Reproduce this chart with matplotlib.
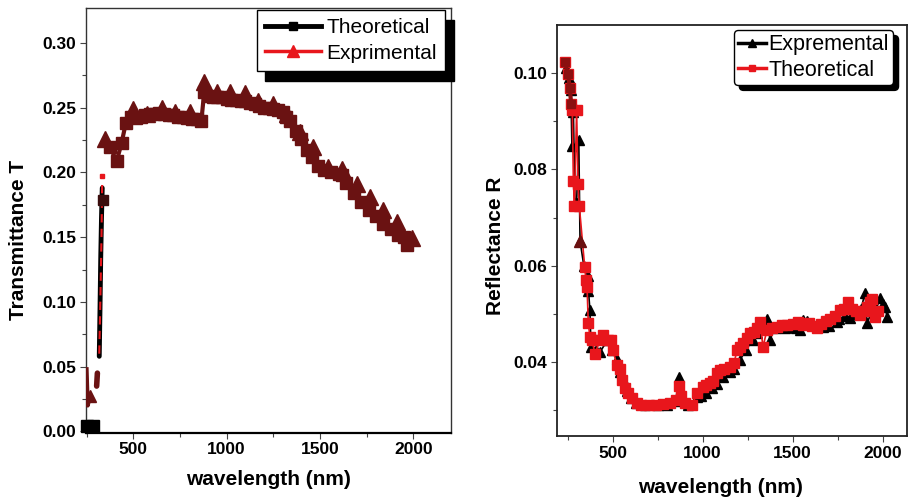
import matplotlib
matplotlib.use("Agg")
import matplotlib.pyplot as plt
from matplotlib.lines import Line2D
import numpy as np

plt.rcParams['font.family'] = ['Liberation Sans', 'DejaVu Sans']

# ---------------- Left panel: Transmittance ----------------
T_theo_wl = [255, 285, 318, 322, 326, 330, 334, 340,
             376, 411, 438, 460, 490, 515, 540, 565, 590, 615, 640, 665, 690,
             715, 740, 765, 790, 815, 840, 865, 880, 900, 925, 950, 975, 1000,
             1025, 1050, 1075, 1100, 1125, 1150, 1175, 1200, 1225, 1250, 1275,
             1300, 1320, 1340, 1370, 1400, 1430, 1460, 1490, 1520, 1560, 1600,
             1620, 1640, 1680, 1720, 1760, 1800, 1840, 1880, 1920, 1950, 1965]
T_theo = [0.004, 0.004, 0.058, 0.095, 0.135, 0.165, 0.188, 0.179,
          0.220, 0.2085, 0.223, 0.238, 0.243, 0.242, 0.243, 0.244, 0.245, 0.245, 0.246, 0.245, 0.244,
          0.244, 0.243, 0.243, 0.242, 0.241, 0.241, 0.240, 0.262, 0.259, 0.258, 0.258, 0.258, 0.257,
          0.256, 0.256, 0.255, 0.255, 0.254, 0.253, 0.251, 0.250, 0.250, 0.249, 0.248,
          0.247, 0.243, 0.240, 0.232, 0.226, 0.217, 0.212, 0.205, 0.202, 0.200, 0.199,
          0.198, 0.192, 0.184, 0.177, 0.171, 0.166, 0.160, 0.156, 0.152, 0.150, 0.144]

T_exp_wl = [250, 256, 268, 290, 304, 308, 318, 325, 330, 334,
            349, 500, 572, 654, 724, 804, 879, 949, 1019, 1099, 1169, 1249,
            1324, 1394, 1464, 1544, 1619, 1699, 1769, 1839, 1914, 1994]
T_exp = [0.048, 0.020, 0.027, 0.022, 0.035, 0.045, 0.060, 0.110, 0.150, 0.197,
         0.226, 0.249, 0.245, 0.250, 0.247, 0.247, 0.270, 0.262, 0.262, 0.261, 0.255, 0.253,
         0.245, 0.231, 0.220, 0.204, 0.203, 0.191, 0.181, 0.171, 0.162, 0.149]

# ---------------- Right panel: Reflectance ----------------
R_exp_wl = [240, 255, 268, 274, 282, 291, 300, 312, 319, 340, 363, 366, 374, 380,
            410, 430, 470, 497, 524, 541, 560, 580, 600, 630, 680, 750, 800, 850,
            869, 880, 920, 969, 990, 1020, 1050, 1080, 1113, 1152, 1175, 1208,
            1240, 1280, 1300, 1330, 1358, 1374, 1400, 1430, 1460, 1490, 1520,
            1541, 1560, 1580, 1610, 1640, 1669, 1700, 1746, 1760, 1790, 1820,
            1850, 1880, 1902, 1913, 1940, 1965, 1985, 2000, 2013, 2024]
R_exp = [0.1010, 0.0990, 0.0965, 0.0848, 0.0920, 0.0731, 0.0731, 0.0862, 0.0652, 0.0600, 0.0579, 0.0548, 0.0507, 0.0431,
         0.0424, 0.0420, 0.0445, 0.0425, 0.0407, 0.0380, 0.0365, 0.0340, 0.0325, 0.0315, 0.0310, 0.0310, 0.0310, 0.0318,
         0.0369, 0.0320, 0.0310, 0.0327, 0.0330, 0.0335, 0.0345, 0.0355, 0.0369, 0.0379, 0.0385, 0.0404,
         0.0425, 0.0446, 0.0460, 0.0470, 0.0490, 0.0446, 0.0470, 0.0475, 0.0470, 0.0472, 0.0470,
         0.0467, 0.0487, 0.0485, 0.0478, 0.0475, 0.0473, 0.0475, 0.0483, 0.0490, 0.0495, 0.0492,
         0.0500, 0.0510, 0.0544, 0.0480, 0.0505, 0.0510, 0.0533, 0.0520, 0.0515, 0.0494]

R_theo_wl = [235, 252, 262, 270, 276, 282, 288, 300, 308, 315, 345, 352, 358, 365, 374,
             385, 402, 430, 447, 474, 490, 502, 524, 540, 552, 568, 585, 608, 635, 660,
             700, 740, 780, 820, 850, 869, 880, 900, 940, 969, 1002, 1020, 1041, 1060,
             1080, 1097, 1120, 1152, 1175, 1191, 1210, 1224, 1245, 1263, 1285, 1302,
             1319, 1335, 1358, 1385, 1413, 1440, 1469, 1500, 1530, 1558, 1590, 1610,
             1636, 1660, 1685, 1708, 1735, 1763, 1785, 1808, 1830, 1850, 1874, 1895,
             1913, 1930, 1941, 1958, 1975]
R_theo = [0.1023, 0.0998, 0.0970, 0.0935, 0.0924, 0.0776, 0.0724, 0.0924, 0.0769, 0.0724, 0.0597, 0.0570, 0.0555, 0.0480, 0.0452,
          0.0446, 0.0417, 0.0445, 0.0455, 0.0445, 0.0446, 0.0424, 0.0393, 0.0385, 0.0363, 0.0346, 0.0335, 0.0325, 0.0315, 0.0310,
          0.0310, 0.0310, 0.0312, 0.0315, 0.0320, 0.0350, 0.0330, 0.0315, 0.0310, 0.0335, 0.0348, 0.0352, 0.0356, 0.0360,
          0.0377, 0.0383, 0.0386, 0.0390, 0.0398, 0.0425, 0.0430, 0.0440, 0.0450, 0.0460, 0.0462, 0.0470,
          0.0483, 0.0431, 0.0467, 0.0470, 0.0473, 0.0476, 0.0477, 0.0478, 0.0483, 0.0476, 0.0480, 0.0475,
          0.0471, 0.0478, 0.0485, 0.0490, 0.0495, 0.0508, 0.0510, 0.0525, 0.0510, 0.0505, 0.0498, 0.0505,
          0.0515, 0.0525, 0.0530, 0.0494, 0.0505]

MAROON = '#6a1212'
RED = '#e8161c'

fig = plt.figure(figsize=(9.11, 4.97), dpi=100)

tick_font = dict(fontsize=12.5, fontweight='bold')
label_font = dict(fontsize=15, fontweight='bold')

# ---------- left ----------
ax1 = fig.add_axes([0.0944, 0.1294, 0.4007, 0.8545])
tw = np.array(T_theo_wl); tv = np.array(T_theo)
ew = np.array(T_exp_wl); ev = np.array(T_exp)
# near-zero theoretical points at short wavelength
ax1.plot(tw[:2], tv[:2], color='black', lw=3, marker='s', ms=8, zorder=3, clip_on=False)
# steep UV rise: black line with red dashes
ax1.plot(tw[2:7], tv[2:7], color='black', lw=3.5, solid_capstyle='round', zorder=3)
ax1.plot(ew[6:10], ev[6:10], color=RED, lw=1.5, ls=(0, (4, 3)), zorder=4)
ax1.plot(tw[7:8], tv[7:8], 's', color='#3a0c0c', ms=7, zorder=4)
ax1.plot(ew[9:10], ev[9:10], 's', color=RED, ms=3, zorder=4)
# short-wavelength experimental fragments
ax1.plot(ew[:3], ev[:3], color=MAROON, lw=3, marker='^', ms=9, markevery=[2], zorder=3)
ax1.plot(ew[4:6], ev[4:6], color=MAROON, lw=4, solid_capstyle='round', zorder=3)
# visible / NIR region
ax1.plot(tw[8:], tv[8:], color=MAROON, lw=3, marker='s', ms=8, zorder=3)
ax1.plot(ew[10:], ev[10:], color=MAROON, marker='^', ms=11, ls='none', zorder=3)

ax1.set_xlim(247, 2202)
ax1.set_ylim(-0.001, 0.327)
ax1.set_xticks([500, 1000, 1500, 2000])
ax1.set_xticks([250, 750, 1250, 1750], minor=True)
ax1.set_yticks([0.00, 0.05, 0.10, 0.15, 0.20, 0.25, 0.30])
ax1.set_yticks([0.025, 0.075, 0.125, 0.175, 0.225, 0.275], minor=True)
ax1.set_yticklabels(['0.00', '0.05', '0.10', '0.15', '0.20', '0.25', '0.30'], **tick_font)
ax1.set_xticklabels(['500', '1000', '1500', '2000'], **tick_font)
ax1.tick_params(direction='out', length=4, width=0.8, color='#444444', pad=3)
ax1.tick_params(which='minor', direction='out', length=3, width=0.8, color='#444444')
for s in ax1.spines.values():
    s.set_linewidth(1.0)
    s.set_color('#333333')
ax1.spines['bottom'].set_linewidth(1.6)
ax1.spines['bottom'].set_color('black')
ax1.set_xlabel('wavelength (nm)', **label_font)
ax1.set_ylabel('Transmittance T', **label_font)
ax1.xaxis.set_label_coords(0.499, -0.088)
ax1.yaxis.set_label_coords(-0.16, 0.454)

h1 = [Line2D([], [], color='black', lw=3.5, marker='s', ms=6),
      Line2D([], [], color=RED, lw=2.5, marker='^', ms=9)]
leg1 = ax1.legend(h1, ['Theoretical', 'Exprimental'], loc='upper right',
                  bbox_to_anchor=(0.984, 0.995), fontsize=15, frameon=True, fancybox=False,
                  edgecolor='black', handlelength=2.7, handletextpad=0.25,
                  borderpad=0.4, labelspacing=0.3, borderaxespad=0.0,
                  shadow={'color': 'black', 'alpha': 1, 'ox': 6, 'oy': -7})
leg1.get_frame().set_linewidth(1.0)

# ---------- right ----------
ax2 = fig.add_axes([0.6114, 0.1227, 0.3842, 0.8270])
rew = np.array(R_exp_wl); rev = np.array(R_exp)
rtw = np.array(R_theo_wl); rtv = np.array(R_theo)
ax2.plot(rew, rev, color='black', lw=1.2, marker='^', ms=7.5, zorder=3)
ax2.plot(rtw, rtv, color=RED, lw=1.2, marker='s', ms=6.5, zorder=4)
# UV overlap shows as dark maroon
ax2.plot(rtw[:4], rtv[:4], color='#8b1010', lw=3, marker='s', ms=6, zorder=5)
ax2.plot(rew[8:9], rev[8:9], color='#6a1010', marker='^', ms=8, ls='none', zorder=5)

ax2.set_xlim(191, 2135)
ax2.set_ylim(0.0246, 0.110)
ax2.set_xticks([500, 1000, 1500, 2000])
ax2.set_xticks([250, 750, 1250, 1750], minor=True)
ax2.set_yticks([0.04, 0.06, 0.08, 0.10])
ax2.set_yticks([0.03, 0.05, 0.07, 0.09], minor=True)
ax2.set_yticklabels(['0.04', '0.06', '0.08', '0.10'], **tick_font)
ax2.set_xticklabels(['500', '1000', '1500', '2000'], **tick_font)
ax2.tick_params(direction='out', length=4, width=0.8, color='#444444', pad=3)
ax2.tick_params(which='minor', direction='out', length=3, width=0.8, color='#444444')
for s in ax2.spines.values():
    s.set_linewidth(1.3)
    s.set_color('#222222')
ax2.set_xlabel('wavelength (nm)', **label_font)
ax2.set_ylabel('Reflectance R', **label_font)
ax2.xaxis.set_label_coords(0.466, -0.102)
ax2.yaxis.set_label_coords(-0.148, 0.462)

h2 = [Line2D([], [], color='black', lw=2.5, marker='^', ms=6),
      Line2D([], [], color=RED, lw=2.5, marker='s', ms=5)]
leg2 = ax2.legend(h2, ['Expremental', 'Theoretical'], loc='upper right',
                  bbox_to_anchor=(0.96, 0.988), fontsize=15.5, frameon=True, fancybox=True,
                  edgecolor='black', handlelength=1.3, handletextpad=0.1,
                  borderpad=0.2, labelspacing=0.2, borderaxespad=0.0,
                  shadow={'color': 'black', 'alpha': 1, 'ox': 4, 'oy': -4})
leg2.get_frame().set_linewidth(1.0)

fig.savefig('out.png', dpi=100)
